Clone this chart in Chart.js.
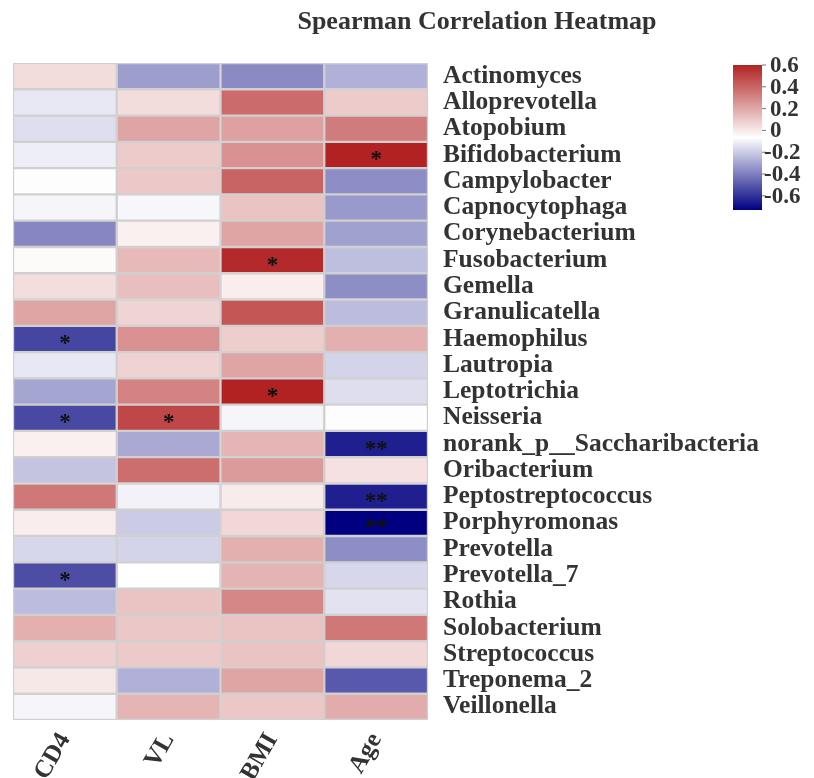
<!DOCTYPE html>
<html>
<head>
<meta charset="utf-8">
<title>Spearman Correlation Heatmap</title>
<script src="https://cdn.jsdelivr.net/npm/chart.js@4.4.1/dist/chart.umd.min.js"></script>
<style>
  body { margin: 0; background: #fff; }
  #wrap { width: 814px; height: 778px; }
</style>
</head>
<body>
<div id="wrap"><canvas id="heatmap" width="814" height="778"></canvas></div>
<script>
// rows (top to bottom) and columns
const taxa = ['Actinomyces', 'Alloprevotella', 'Atopobium', 'Bifidobacterium', 'Campylobacter',
  'Capnocytophaga', 'Corynebacterium', 'Fusobacterium', 'Gemella', 'Granulicatella',
  'Haemophilus', 'Lautropia', 'Leptotrichia', 'Neisseria', 'norank_p__Saccharibacteria',
  'Oribacterium', 'Peptostreptococcus', 'Porphyromonas', 'Prevotella', 'Prevotella_7',
  'Rothia', 'Solobacterium', 'Streptococcus', 'Treponema_2', 'Veillonella'];
const variables = ['CD4', 'VL', 'BMI', 'Age'];

// spearman rho per variable, same order as taxa
const cd4 = [0.04, -0.125, -0.15, -0.11, -0.07, -0.09, -0.38, -0.05, 0.035, 0.21,
  -0.55, -0.125, -0.30, -0.54, -0.02, -0.22, 0.34, -0.01, -0.17, -0.53,
  -0.24, 0.175, 0.075, 0.005, -0.09];
const vl = [-0.32, 0.04, 0.21, 0.09, 0.10, -0.085, -0.02, 0.145, 0.13, 0.065,
  0.265, 0.07, 0.31, 0.49, -0.29, 0.37, -0.10, -0.20, -0.18, -0.065,
  0.115, 0.105, 0.095, -0.27, 0.16];
const bmi = [-0.37, 0.38, 0.22, 0.265, 0.40, 0.115, 0.21, 0.58, -0.01, 0.445,
  0.085, 0.21, 0.60, -0.09, 0.16, 0.235, -0.005, 0.055, 0.175, 0.165,
  0.295, 0.115, 0.115, 0.21, 0.105];
const age = [-0.27, 0.09, 0.33, 0.60, -0.36, -0.33, -0.31, -0.235, -0.36, -0.24,
  0.175, -0.18, -0.15, -0.07, -0.65, 0.025, -0.65, -0.73, -0.36, -0.17,
  -0.14, 0.34, 0.055, -0.50, 0.185];

// significance marks
const cd4Sig = ['', '', '', '', '', '', '', '', '', '', '*', '', '', '*', '', '', '', '', '', '*', '', '', '', '', ''];
const vlSig = ['', '', '', '', '', '', '', '', '', '', '', '', '', '*', '', '', '', '', '', '', '', '', '', '', ''];
const bmiSig = ['', '', '', '', '', '', '', '*', '', '', '', '', '*', '', '', '', '', '', '', '', '', '', '', '', ''];
const ageSig = ['', '', '', '*', '', '', '', '', '', '', '', '', '', '', '**', '', '**', '**', '', '', '', '', '', '', ''];

// colour key
const keyTicks = [0.6, 0.4, 0.2, 0, -0.2, -0.4, -0.6];
const keyMin = -0.73;
const keyMax = 0.6;

const allValues = [cd4, vl, bmi, age];
const allSig = [cd4Sig, vlSig, bmiSig, ageSig];

const fontFamily = '"Liberation Serif", "Times New Roman", serif';
const textColor = '#333333';

// navy -> white -> firebrick, white at the middle of the range (like pheatmap)
function heatColor(v) {
  let t = (v - keyMin) / (keyMax - keyMin);
  t = Math.max(0, Math.min(1, t));
  let r, g, b;
  if (t < 0.5) {
    const s = t / 0.5;
    r = 255 * s; g = 255 * s; b = 128 + 127 * s;
  } else {
    const s = (t - 0.5) / 0.5;
    r = 255 - 77 * s; g = 255 - 221 * s; b = 255 - 221 * s;
  }
  return `rgb(${Math.round(r)},${Math.round(g)},${Math.round(b)})`;
}

const datasets = variables.map((name, c) => ({
  label: name,
  data: taxa.map((t) => ({ y: t, x: [c, c + 1] })),
  backgroundColor: allValues[c].map(heatColor),
  borderColor: '#d0d0d0',
  borderWidth: 1.5,
  borderSkipped: false,
  barPercentage: 1,
  categoryPercentage: 1,
  grouped: false
}));

// stars + title + colour key
const extras = {
  id: 'extras',
  afterDatasetsDraw(chart) {
    const ctx = chart.ctx;
    const xs = chart.scales.x;
    const ys = chart.scales.y;
    ctx.save();
    ctx.fillStyle = '#111';
    ctx.font = `bold 23px ${fontFamily}`;
    ctx.textAlign = 'center';
    ctx.textBaseline = 'alphabetic';
    allSig.forEach((col, c) => {
      col.forEach((mark, i) => {
        if (!mark) return;
        const m = ctx.measureText(mark);
        const cx = xs.getPixelForValue(c + 0.5);
        const cy = ys.getPixelForValue(i) + 1;
        const yy = cy + (m.actualBoundingBoxAscent - m.actualBoundingBoxDescent) / 2;
        ctx.fillText(mark, cx, yy);
      });
    });
    ctx.restore();
  },
  afterDraw(chart) {
    const ctx = chart.ctx;
    ctx.save();
    // title
    ctx.fillStyle = textColor;
    ctx.font = `bold 26px ${fontFamily}`;
    ctx.textAlign = 'center';
    ctx.textBaseline = 'middle';
    ctx.fillText('Spearman Correlation Heatmap', 477, 22);

    // colour bar
    const bx = 733, bw = 29, top = 65, h = 145;
    const grad = ctx.createLinearGradient(0, top, 0, top + h);
    grad.addColorStop(0, heatColor(keyMax));
    grad.addColorStop(0.5, heatColor((keyMax + keyMin) / 2));
    grad.addColorStop(1, heatColor(keyMin));
    ctx.fillStyle = grad;
    ctx.fillRect(bx, top, bw, h);
    const toY = (v) => top + (keyMax - v) / (keyMax - keyMin) * h;
    ctx.strokeStyle = '#777';
    ctx.lineWidth = 1;
    ctx.font = `bold 23px ${fontFamily}`;
    ctx.textAlign = 'left';
    ctx.textBaseline = 'middle';
    ctx.fillStyle = textColor;
    keyTicks.forEach((v) => {
      const y = toY(v);
      ctx.beginPath();
      ctx.moveTo(bx + bw, y);
      ctx.lineTo(bx + bw + 4, y);
      ctx.stroke();
      const label = String(v);
      ctx.fillText(label, bx + bw + (v < 0 ? 2 : 8), y + 1);
    });
    ctx.restore();
  }
};

new Chart(document.getElementById('heatmap'), {
  type: 'bar',
  data: { labels: taxa, datasets: datasets },
  options: {
    indexAxis: 'y',
    responsive: false,
    animation: false,
    layout: { padding: { top: 63, left: 13, right: 0, bottom: 0 } },
    plugins: {
      legend: { display: false },
      tooltip: { enabled: false },
      title: { display: false }
    },
    scales: {
      y: {
        type: 'category',
        position: 'right',
        grid: { display: false, drawTicks: false },
        border: { display: false },
        ticks: {
          padding: 15,
          autoSkip: false,
          color: textColor,
          font: { family: fontFamily, size: 25.5, weight: 'bold' }
        },
        afterFit(scale) { scale.width = 386; }
      },
      x: {
        type: 'linear',
        min: 0,
        max: variables.length,
        grid: { display: false, drawTicks: false },
        border: { display: false },
        afterBuildTicks(scale) {
          scale.ticks = variables.map((v, i) => ({ value: i + 0.5 }));
        },
        ticks: {
          padding: 8,
          minRotation: 60,
          maxRotation: 60,
          autoSkip: false,
          color: textColor,
          font: { family: fontFamily, size: 25, weight: 'bold' },
          callback(value) { return variables[Math.floor(value)]; }
        },
        afterFit(scale) { scale.height = 58; }
      }
    }
  },
  plugins: [extras]
});
</script>
</body>
</html>
